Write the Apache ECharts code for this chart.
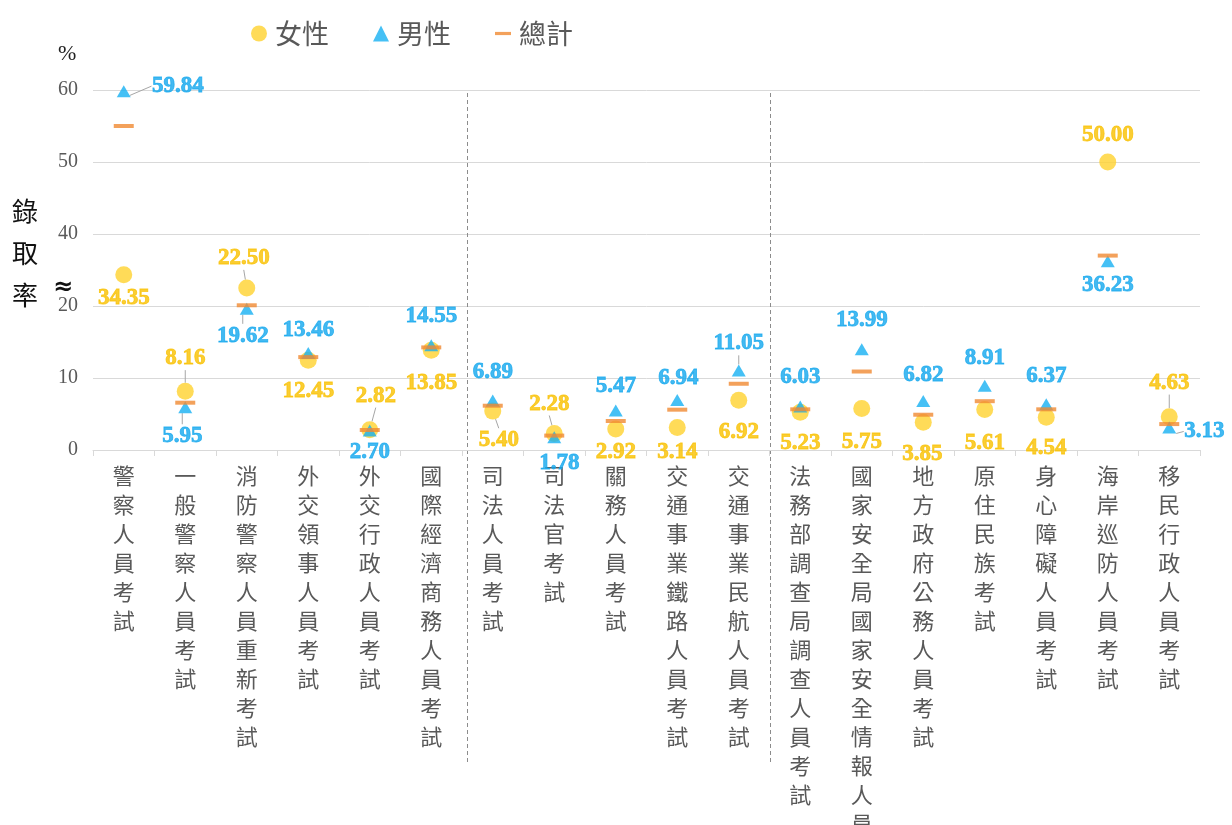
<!DOCTYPE html>
<html>
<head>
<meta charset="utf-8">
<script src="https://cdn.jsdelivr.net/npm/echarts@6/dist/echarts.min.js"></script>
<style>
  html, body { margin: 0; padding: 0; background: #fff; }
  #chart { width: 1232px; height: 825px; }
</style>
</head>
<body>
<div id="chart"></div>
<script>
// 考試類別
var categories = [
  '警察人員考試', '一般警察人員考試', '消防警察人員重新考試', '外交領事人員考試',
  '外交行政人員考試', '國際經濟商務人員考試', '司法人員考試', '司法官考試',
  '關務人員考試', '交通事業鐵路人員考試', '交通事業民航人員考試',
  '法務部調查局調查人員考試', '國家安全局國家安全情報人員考試',
  '地方政府公務人員考試', '原住民族考試', '身心障礙人員考試',
  '海岸巡防人員考試', '移民行政人員考試'
];
// 錄取率 (%)
var female = [34.35, 8.16, 22.50, 12.45, 2.82, 13.85, 5.40, 2.28, 2.92, 3.14, 6.92, 5.23, 5.75, 3.85, 5.61, 4.54, 50.00, 4.63];
var male = [59.84, 5.95, 19.62, 13.46, 2.70, 14.55, 6.89, 1.78, 5.47, 6.94, 11.05, 6.03, 13.99, 6.82, 8.91, 6.37, 36.23, 3.13];
var total = [55.0, 6.57, 20.1, 12.9, 2.78, 14.25, 6.15, 2.0, 4.03, 5.6, 9.2, 5.65, 10.9, 4.9, 6.78, 5.65, 37.0, 3.6];
var yTicks = ['0', '10', '20', '40', '50', '60'];

// label placement (offset from the mark, in px) and which ones get a leader line
var femaleLabelPos = [[0,23],[0,-33],[-3,-30],[0,31],[6,-34],[0,33],[6,29],[-5,-30],[0,23],[0,25],[0,32],[0,31],[0,33],[-1,32],[0,33],[0,31],[0,-27],[0,-34]];
var femaleLead = [1, 2, 4, 6, 7, 17];
var maleLabelPos = [[54,-5],[-3,29],[-4,27],[0,-23],[0,22],[0,-29],[0,-28],[5,26],[0,-25],[1,-22],[0,-27],[0,-30],[0,-29],[0,-26],[0,-28],[0,-28],[0,24],[35,4]];
var maleLead = [0, 1, 2, 10, 17];

// 縱軸在 20 與 40 之間斷開 (≈)，超過 30 的值往下移 10
function axisVal(v) { return v > 30 ? v - 10 : v; }

function buildData(vals, lead) {
  return vals.map(function (v, i) {
    var item = { value: [i, axisVal(v)], raw: v };
    if (lead && lead.indexOf(i) >= 0) {
      item.labelLine = { show: true, lineStyle: { color: '#a6a6a6', width: 1 } };
    }
    return item;
  });
}

function layoutFn(pos) {
  return function (p) {
    var o = pos[p.dataIndex];
    return {
      x: p.rect.x + p.rect.width / 2 + o[0],
      y: p.rect.y + p.rect.height / 2 + o[1],
      align: 'center',
      verticalAlign: 'middle'
    };
  };
}

var chart = echarts.init(document.getElementById('chart'));
var numFont = '"Liberation Serif", "Times New Roman", serif';
var cjkFont = 'Noto Sans CJK TC';

function valLabel(color) {
  return {
    show: true,
    fontFamily: numFont,
    fontWeight: 700,
    fontSize: 23,
    color: color,
    textBorderColor: color,
    textBorderWidth: 0.8,
    formatter: function (p) { return p.data.raw.toFixed(2); }
  };
}

chart.setOption({
  backgroundColor: '#fff',
  animation: false,
  legend: {
    left: 246,
    top: 15,
    itemWidth: 16,
    itemHeight: 16,
    itemGap: 44,
    textStyle: { fontFamily: cjkFont, fontSize: 27, color: '#595959', padding: [0, 0, 0, 3] },
    data: [
      { name: '女性', icon: 'circle' },
      { name: '男性', icon: 'triangle' },
      { name: '總計', icon: 'path://M0,0H20V4H0Z' }
    ]
  },
  grid: { left: 93, right: 32, top: 90, bottom: 375, outerBoundsMode: 'none', containLabel: false },
  xAxis: {
    type: 'category',
    data: categories,
    boundaryGap: true,
    axisLine: { lineStyle: { color: '#d9d9d9' } },
    axisTick: { show: true, interval: 0, length: 6, lineStyle: { color: '#d9d9d9' } },
    axisLabel: {
      interval: 0,
      margin: 11,
      fontFamily: cjkFont,
      fontSize: 22,
      lineHeight: 29,
      color: '#595959',
      formatter: function (v) { return v.split('').join('\n'); }
    }
  },
  yAxis: {
    type: 'value',
    min: 0,
    max: 50,
    interval: 10,
    axisLine: { show: false },
    axisTick: { show: false },
    splitLine: { lineStyle: { color: '#d9d9d9', width: 1 } },
    axisLabel: {
      margin: 15,
      fontFamily: numFont,
      fontSize: 20,
      color: '#595959',
      formatter: function (v) { return yTicks[v / 10]; }
    }
  },
  series: [
    {
      name: '女性',
      type: 'scatter',
      symbol: 'circle',
      symbolSize: 17,
      itemStyle: { color: '#FFD22E' },
      data: buildData(female, femaleLead),
      label: valLabel('#F9C000'),
      labelLayout: layoutFn(femaleLabelPos),
      z: 2
    },
    {
      name: '男性',
      type: 'scatter',
      symbol: 'triangle',
      symbolSize: [14, 12],
      itemStyle: { color: '#17B0F2' },
      data: buildData(male, maleLead),
      label: valLabel('#14A8EE'),
      labelLayout: layoutFn(maleLabelPos),
      z: 3
    },
    {
      name: '總計',
      type: 'scatter',
      symbol: 'rect',
      symbolSize: [20, 4],
      itemStyle: { color: '#F08A32' },
      data: buildData(total, null),
      z: 4
    }
  ]
});

// separators, y title, break mark
var xa = chart.convertToPixel({ xAxisIndex: 0 }, 5);
var xb = chart.convertToPixel({ xAxisIndex: 0 }, 6);
var xc = chart.convertToPixel({ xAxisIndex: 0 }, 10);
var xd = chart.convertToPixel({ xAxisIndex: 0 }, 11);
var s1 = Math.round((xa + xb) / 2) + 5.5;
var s2 = Math.round((xc + xd) / 2) + 0.5;
var dash = { stroke: '#8c8c8c', lineWidth: 1, lineDash: [4, 3] };

chart.setOption({
  graphic: [
    { type: 'line', shape: { x1: s1, y1: 93, x2: s1, y2: 765 }, style: dash, silent: true },
    { type: 'line', shape: { x1: s2, y1: 93, x2: s2, y2: 765 }, style: dash, silent: true },
    {
      type: 'text', left: 58, top: 43,
      style: { text: '%', font: '22px "Liberation Serif"', fill: '#222' }
    },
    {
      type: 'text', left: 12, top: 190,
      style: { text: '錄\n取\n率', font: '26px "Noto Sans CJK TC"', lineHeight: 42, fill: '#111' }
    },
    {
      type: 'text', left: 53, top: 276,
      style: { text: '≈', font: 'bold 24px "DejaVu Sans"', fill: '#111' }
    }
  ]
});
</script>
</body>
</html>
